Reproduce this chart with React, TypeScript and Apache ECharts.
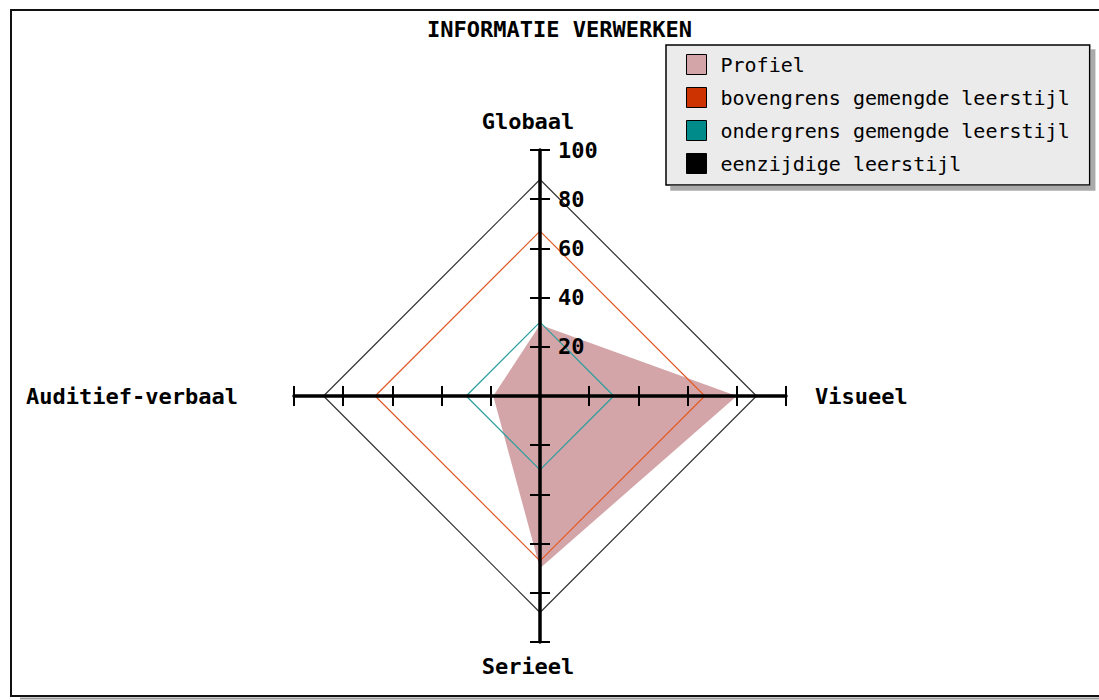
import React, { useEffect, useRef } from "react";
import * as echarts from "echarts";

// Indicator order as ECharts lays them out (counter-clockwise from top)
const categories = ["Globaal", "Auditief-verbaal", "Serieel", "Visueel"];
const profiel = [29, 19, 70, 80];
const bovengrens = [67, 67, 67, 67];
const ondergrens = [30, 30, 30, 30];
const eenzijdig = [88, 88, 88, 88];
const seriesNames = [
  "Profiel",
  "bovengrens gemengde leerstijl",
  "ondergrens gemengde leerstijl",
  "eenzijdige leerstijl",
];
const axisMin = -100;
const axisMax = 100;
const tickStep = 20;

const MONO = "'DejaVu Sans Mono', 'Liberation Mono', monospace";

export default function App() {
  const ref = useRef<HTMLDivElement>(null);
  useEffect(() => {
    if (!ref.current) return;
    const chart = echarts.init(ref.current, undefined, { renderer: "svg" });
    const namePad: Record<string, number[]> = {
      n0: [0, 24, 18, 0],
      n1: [0, 56, 0, 0],
      n2: [13, 24, 0, 0],
      n3: [0, 0, 0, 29],
    };
    const rich: Record<string, any> = {};
    Object.keys(namePad).forEach((k) => {
      rich[k] = {
        fontFamily: MONO,
        fontWeight: "bold",
        fontSize: 22,
        color: "#000",
        padding: namePad[k],
      };
    });
    const baseAxis = {
      type: "value",
      min: axisMin,
      max: axisMax,
      interval: tickStep,
      z: 5,
      splitLine: { show: false },
    };
    const option: any = {
      animation: false,
      backgroundColor: "#fff",
      title: {
        text: "INFORMATIE VERWERKEN",
        left: 427,
        top: 18,
        padding: 0,
        textStyle: {
          fontFamily: MONO,
          fontWeight: "bold",
          fontSize: 22,
          color: "#000",
        },
      },
      legend: {
        orient: "vertical",
        left: 666,
        top: 45,
        padding: [9, 20, 11, 20],
        itemWidth: 20,
        itemHeight: 20,
        itemGap: 12,
        icon: "rect",
        selectedMode: false,
        backgroundColor: "#ebebeb",
        borderColor: "#000",
        borderWidth: 1.5,
        shadowColor: "#aaa",
        shadowBlur: 1,
        shadowOffsetX: 5,
        shadowOffsetY: 5,
        itemStyle: { borderColor: "#000", borderWidth: 1 },
        textStyle: {
          fontFamily: MONO,
          fontSize: 20,
          color: "#000",
          padding: [0, 0, 0, 9],
        },
        data: seriesNames,
      },
      grid: { left: 294, top: 150, width: 492, height: 492, show: false },
      xAxis: [
        {
          ...baseAxis,
          position: "bottom",
          axisLine: { onZero: true, lineStyle: { color: "#000", width: 3.5 } },
          axisTick: { inside: true, length: 10, lineStyle: { color: "#000", width: 2 } },
          axisLabel: { show: false },
        },
        {
          ...baseAxis,
          position: "bottom",
          axisLine: { show: false, onZero: true },
          axisTick: { show: true, inside: false, length: 10, lineStyle: { color: "#000", width: 2 } },
          axisLabel: { show: false },
        },
      ],
      yAxis: [
        {
          ...baseAxis,
          position: "left",
          axisLine: { onZero: true, lineStyle: { color: "#000", width: 3.5 } },
          axisTick: { inside: true, length: 10, lineStyle: { color: "#000", width: 2 } },
          axisLabel: {
            inside: true,
            // labels stay at the grid edge with onZero; push them to the right of the centre line
            margin: 264,
            showMaxLabel: true,
            fontFamily: MONO,
            fontWeight: "bold",
            fontSize: 22,
            color: "#000",
            formatter: (v: number) => (v > 0 ? String(v) : ""),
          },
        },
        {
          ...baseAxis,
          position: "left",
          axisLine: { show: false, onZero: true },
          axisTick: { show: true, inside: false, length: 10, lineStyle: { color: "#000", width: 2 } },
          axisLabel: { show: false },
        },
      ],
      radar: {
        center: [540, 396],
        radius: 246,
        startAngle: 90,
        shape: "polygon",
        nameGap: 0,
        indicator: categories.map((name) => ({ name, min: 0, max: 100 })),
        axisLine: { show: false },
        splitLine: { show: false },
        splitArea: { show: false },
        axisTick: { show: false },
        axisLabel: { show: false },
        axisName: {
          color: "#000",
          fontFamily: MONO,
          fontWeight: "bold",
          fontSize: 22,
          formatter: (name: string) => `{n${categories.indexOf(name)}|${name}}`,
          rich,
        },
      },
      graphic: [
        {
          type: "rect",
          z: -1,
          silent: true,
          shape: { x: 11, y: 10, width: 1300, height: 686 },
          style: { fill: "none", stroke: "#111", lineWidth: 2 },
        },
        {
          type: "line",
          z: -1,
          silent: true,
          shape: { x1: 20, y1: 698.5, x2: 1099, y2: 698.5 },
          style: { stroke: "#999", lineWidth: 2 },
        },
      ],
      series: [
        {
          type: "radar",
          name: seriesNames[0],
          symbol: "none",
          itemStyle: { color: "#d4a5a8" },
          lineStyle: { width: 0, opacity: 0 },
          areaStyle: { color: "#d4a5a8", opacity: 1 },
          data: [{ value: profiel, name: seriesNames[0] }],
        },
        {
          type: "radar",
          name: seriesNames[3],
          symbol: "none",
          itemStyle: { color: "#000" },
          lineStyle: { color: "#333", width: 1.2 },
          data: [{ value: eenzijdig, name: seriesNames[3] }],
        },
        {
          type: "radar",
          name: seriesNames[1],
          symbol: "none",
          itemStyle: { color: "#cc3300" },
          lineStyle: { color: "#e35a26", width: 1.2 },
          data: [{ value: bovengrens, name: seriesNames[1] }],
        },
        {
          type: "radar",
          name: seriesNames[2],
          symbol: "none",
          itemStyle: { color: "#008b8b" },
          lineStyle: { color: "#2a9d9d", width: 1.2 },
          data: [{ value: ondergrens, name: seriesNames[2] }],
        },
      ],
    };
    chart.setOption(option);
    return () => chart.dispose();
  }, []);
  return (
    <div
      ref={ref}
      style={{ position: "fixed", left: 0, top: 0, width: 1099, height: 700, background: "#fff" }}
    />
  );
}
